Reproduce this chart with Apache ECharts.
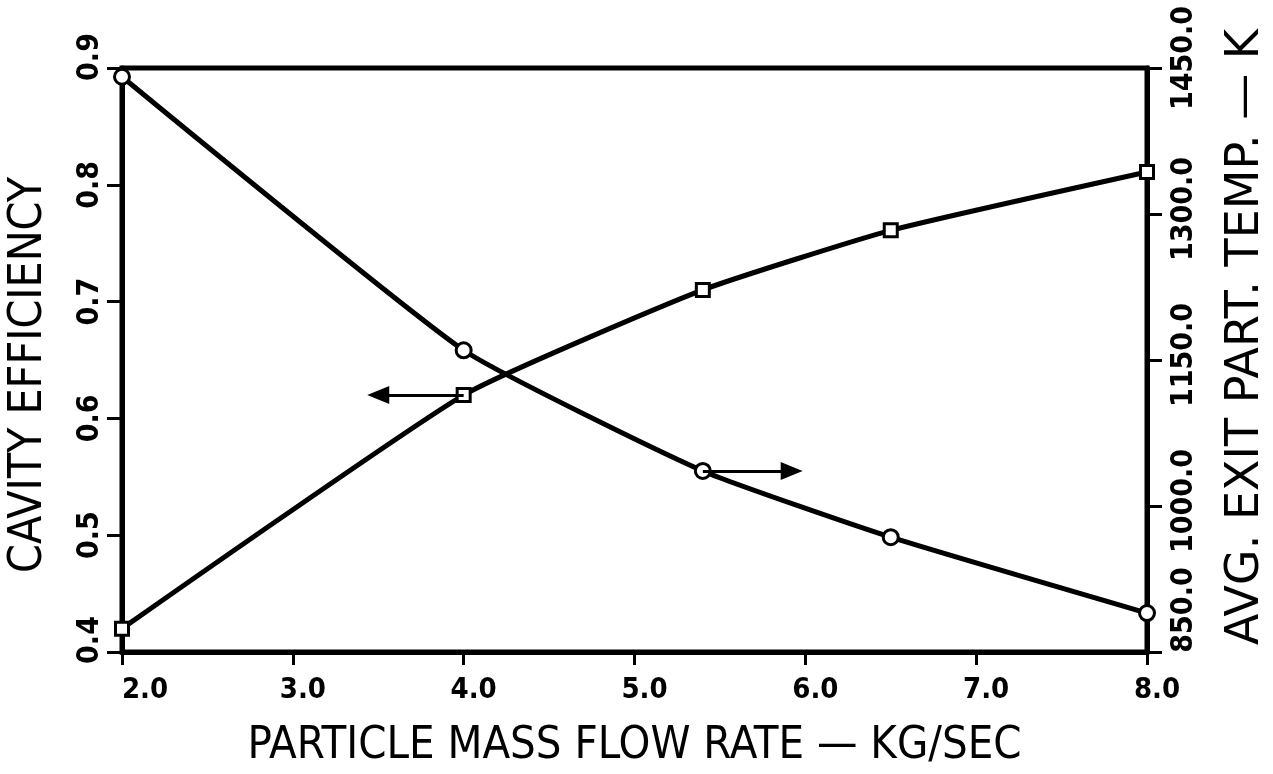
<!DOCTYPE html>
<html>
<head>
<meta charset="utf-8">
<script src="https://cdn.jsdelivr.net/npm/echarts@6/dist/echarts.min.js"></script>
<style>
html,body{margin:0;padding:0;background:#fff;}
#chart{width:1273px;height:774px;}
</style>
</head>
<body>
<div id="chart"></div>
<script>
// Data
const flowRates = [2.0, 4.0, 5.4, 6.5, 8.0];
const cavityEfficiency = [0.42, 0.62, 0.71, 0.761, 0.811];
const exitTemp = [1441, 1160, 1036, 968, 890];
const leftTicks = [0.4, 0.5, 0.6, 0.7, 0.8, 0.9];
const rightTicks = [850, 1000, 1150, 1300, 1450];
const xTicks = [2, 3, 4, 5, 6, 7, 8];
const effArrow = [[4.0, 0.62], [3.5, 0.62]];
const tempArrow = [[5.4, 1036], [5.92, 1036]];

const FONT = "'DejaVu Sans Condensed','Liberation Sans',sans-serif";
const chart = echarts.init(document.getElementById('chart'), null, {renderer: 'canvas'});

const axisLineStyle = {color: '#000', width: 5};
const baseLabel = {color: '#000', fontFamily: FONT, fontWeight: 'bold'};

chart.setOption({
  backgroundColor: '#fff',
  animation: false,
  grid: {left: 122, right: 126, top: 68, bottom: 122, containLabel: false, outerBoundsMode: 'none',
    show: true, borderColor: '#000', borderWidth: 5, backgroundColor: 'transparent'},
  xAxis: {
    type: 'value', min: xTicks[0], max: xTicks[xTicks.length - 1], interval: 1,
    axisLine: {show: true, lineStyle: axisLineStyle},
    axisTick: {show: true, inside: false, length: 13, lineStyle: {color: '#000', width: 3}},
    splitLine: {show: false},
    axisLabel: Object.assign({}, baseLabel, {fontSize: 29, margin: 24,
      formatter: v => (v === xTicks[0] ? '{first|' : '{n|') + v.toFixed(1) + '}',
      rich: {
        n: Object.assign({}, baseLabel, {fontSize: 29, padding: [0, 0, 0, 20]}),
        first: Object.assign({}, baseLabel, {fontSize: 29, padding: [0, 0, 0, 46]})
      }}),
    name: 'PARTICLE MASS FLOW RATE \u2014 KG/SEC', nameLocation: 'middle', nameGap: 72,
    nameTextStyle: {color: '#000', fontFamily: FONT, fontSize: 45}
  },
  yAxis: [{
    type: 'value', min: leftTicks[0], max: leftTicks[leftTicks.length - 1], interval: 0.1,
    axisLine: {show: true, lineStyle: axisLineStyle},
    axisTick: {show: true, inside: false, length: 15, lineStyle: {color: '#000', width: 3}},
    splitLine: {show: false},
    axisLabel: Object.assign({}, baseLabel, {fontSize: 30, rotate: 90, margin: 17,
      formatter: v => (Math.abs(v - leftTicks[0]) < 1e-9 ? '{low|' : (Math.abs(v - leftTicks[leftTicks.length - 1]) < 1e-9 ? '{high|' : '{n|')) + v.toFixed(1) + '}',
      rich: {
        n: Object.assign({}, baseLabel, {fontSize: 30}),
        low: Object.assign({}, baseLabel, {fontSize: 30, padding: [0, 0, 0, 24]}),
        high: Object.assign({}, baseLabel, {fontSize: 30, padding: [0, 0, 0, 22]})
      }}),
    name: 'CAVITY EFFICIENCY', nameLocation: 'middle', nameRotate: 90, nameGap: 70,
    nameTextStyle: {color: '#000', fontFamily: FONT, fontSize: 46, padding: [0, 30, 0, 0]}
  }, {
    type: 'value', position: 'right', min: rightTicks[0], max: rightTicks[rightTicks.length - 1], interval: 150,
    axisLine: {show: true, lineStyle: axisLineStyle},
    axisTick: {show: true, inside: false, length: 15, lineStyle: {color: '#000', width: 3}},
    splitLine: {show: false},
    axisLabel: Object.assign({}, baseLabel, {fontSize: 30, rotate: 90, margin: 22,
      formatter: v => (v === rightTicks[0] ? '{low|' : (v === rightTicks[rightTicks.length - 1] ? '{high|' : '{n|')) + v.toFixed(1) + '}',
      rich: {
        n: Object.assign({}, baseLabel, {fontSize: 30, padding: [0, 0, 0, 10]}),
        low: Object.assign({}, baseLabel, {fontSize: 30, padding: [0, 0, 0, 84]}),
        high: Object.assign({}, baseLabel, {fontSize: 30, padding: [0, 0, 0, 20]})
      }}),
    name: 'AVG. EXIT PART. TEMP. \u2014 K', nameLocation: 'middle', nameRotate: 90, nameGap: 76,
    nameTextStyle: {color: '#000', fontFamily: "'DejaVu Sans','Liberation Sans',sans-serif", fontSize: 46, padding: [0, 0, 0, 46]}
  }],
  series: [{
    type: 'line', yAxisIndex: 0,
    data: flowRates.map((x, i) => [x, cavityEfficiency[i]]),
    symbol: 'rect', symbolSize: 13, showAllSymbol: true,
    lineStyle: {color: '#000', width: 5}, itemStyle: {color: '#fff', borderColor: '#000', borderWidth: 3},
    smooth: 0.15,
    markLine: {
      silent: true, symbol: ['none', 'triangle'], symbolSize: [18, 22], label: {show: false},
      lineStyle: {color: '#000', width: 3, type: 'solid'},
      data: [[{coord: effArrow[0]}, {coord: effArrow[1]}]]
    }
  }, {
    type: 'line', yAxisIndex: 1,
    data: flowRates.map((x, i) => [x, exitTemp[i]]),
    symbol: 'circle', symbolSize: 15, showAllSymbol: true,
    lineStyle: {color: '#000', width: 5}, itemStyle: {color: '#fff', borderColor: '#000', borderWidth: 3},
    smooth: 0.15,
    markLine: {
      silent: true, symbol: ['none', 'triangle'], symbolSize: [18, 22], label: {show: false},
      lineStyle: {color: '#000', width: 3, type: 'solid'},
      data: [[{coord: tempArrow[0]}, {coord: tempArrow[1]}]]
    }
  }]
});
</script>
</body>
</html>
